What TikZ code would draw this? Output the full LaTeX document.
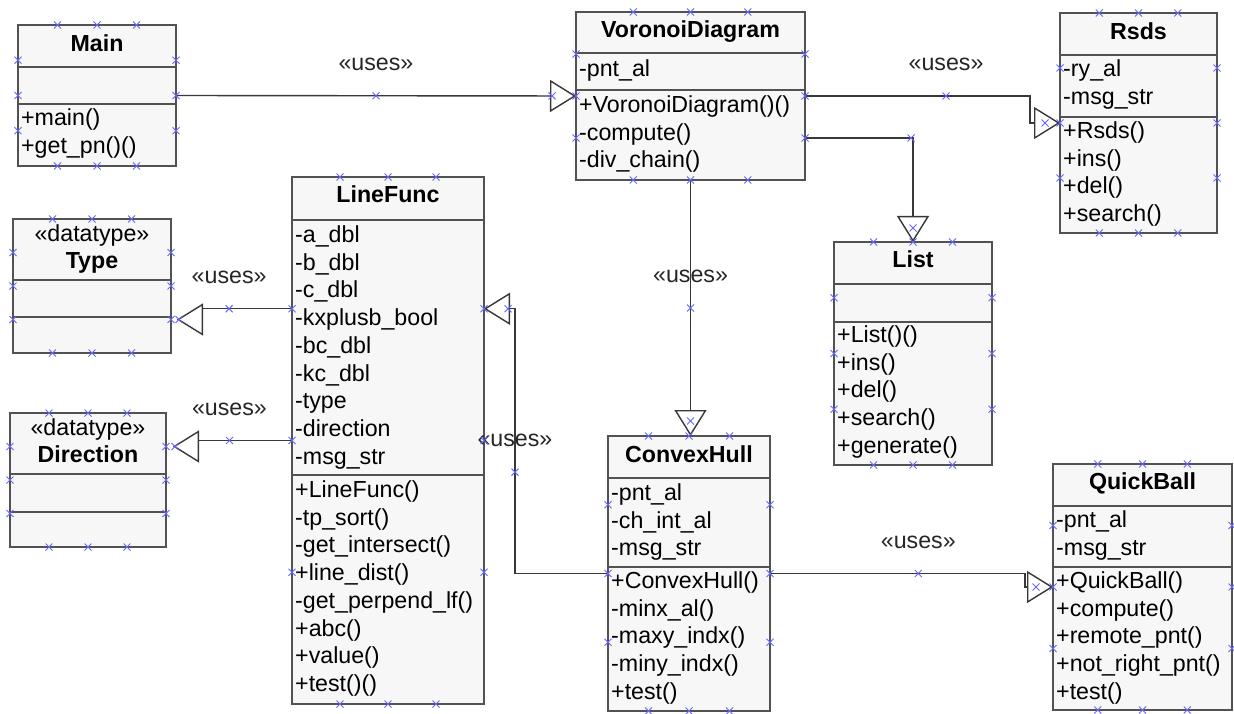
\documentclass[tikz,border=0pt]{standalone}
\usepackage{fontspec}
\setmainfont{Liberation Sans}
\usetikzlibrary{arrows.meta,calc,positioning,decorations.markings}

\colorlet{boxgray}{black!68}
\colorlet{wiregray}{black!78}
\colorlet{handleblue}{blue!60!white}

\tikzset{
  cls/.style={draw=boxgray, line width=2pt, fill=black!3, anchor=north west,
    inner sep=0pt, outer sep=0pt},
  divline/.style={draw=boxgray, line width=2.2pt},
  member/.style={anchor=west, inner sep=0pt, text height=16pt, text depth=5pt,
    font=\fontsize{23.2}{27}\selectfont},
  title/.style={member, anchor=center, font=\fontsize{23.2}{27}\selectfont\bfseries},
  ulabel/.style={member, anchor=center, text=black!85},
  hx/.pic={\draw[handleblue, line width=1pt, -] (-3.5,-3.5) -- (3.5,3.5) (-3.5,3.5) -- (3.5,-3.5);},
  uses/.style 2 args={draw=wiregray, line width=1.4pt,
    -{Triangle[length=26pt,width=32pt,fill=white]},
    postaction={decorate}, decoration={markings,
      mark=at position 0.5 with {\coordinate (#1); \pic{hx};},
      mark=at position -#2 with {\pic{hx};}}}
}

% box with two compartment lines
\newcommand{\umlbox}[6]{%
  \node[cls, minimum width=#3pt, minimum height=#4pt] (#1) at #2 {};
  \draw[divline] ($(#1.north west)+(0,#5)$) -- ($(#1.north east)+(0,#5)$);
  \draw[divline] ($(#1.north west)+(0,#6)$) -- ($(#1.north east)+(0,#6)$);}
% rows of attributes or operations
\newcommand{\umlrows}[4]{%
  \foreach \s [count=\i from 0] in {#4}
    \node[member] (#2\i) at ($(#1.north west)+(3,#3+\i*27.7)$) {\s};}

\begin{document}
\begin{tikzpicture}[x=1pt,y=-1pt]
  \fill[white] (0,0) rectangle (1234,714);
  \useasboundingbox (0,0) rectangle (1234,714);

  % classes
  \umlbox{main}{(18,25)}{158}{141}{42}{79}
  \node[title] (main-t) at ($(main.north)+(0,21)$) {Main};
  \umlrows{main}{main-m}{95}{+main(),+get\_pn()()}

  \umlbox{vd}{(576,12)}{229}{168}{41}{78}
  \node[title] (vd-t) at ($(vd.north)+(0,20)$) {VoronoiDiagram};
  \umlrows{vd}{vd-a}{59}{-pnt\_al}
  \umlrows{vd}{vd-m}{95}{+VoronoiDiagram()(),-compute(),-div\_chain()}

  \umlbox{rsds}{(1060,13)}{157}{220}{42}{104}
  \node[title] (rsds-t) at ($(rsds.north)+(0,21)$) {Rsds};
  \umlrows{rsds}{rsds-a}{58}{-ry\_al,-msg\_str}
  \umlrows{rsds}{rsds-m}{120}{+Rsds(),+ins(),+del(),+search()}

  \umlbox{lf}{(292,177)}{192}{527}{43}{298}
  \node[title] (lf-t) at ($(lf.north)+(0,20)$) {LineFunc};
  \umlrows{lf}{lf-a}{60}{-a\_dbl,-b\_dbl,-c\_dbl,-kxplusb\_bool,-bc\_dbl,-kc\_dbl,-type,-direction,-msg\_str}
  \umlrows{lf}{lf-m}{315}{+LineFunc(),-tp\_sort(),-get\_intersect(),+line\_dist(),-get\_perpend\_lf(),+abc(),+value(),+test()()}

  \umlbox{type}{(13,219)}{158}{134}{61}{98}
  \node[member, anchor=center] (type-s) at ($(type.north)+(0,17)$) {«datatype»};
  \node[title] (type-t) at ($(type.north)+(0,44)$) {Type};

  \umlbox{dir}{(10,413)}{156}{134}{61}{99}
  \node[member, anchor=center] (dir-s) at ($(dir.north)+(0,17)$) {«datatype»};
  \node[title] (dir-t) at ($(dir.north)+(0,44)$) {Direction};

  \umlbox{list}{(834,242)}{158}{223}{42}{80}
  \node[title] (list-t) at ($(list.north)+(0,20)$) {List};
  \umlrows{list}{list-m}{95}{+List()(),+ins(),+del(),+search(),+generate()}

  \umlbox{ch}{(608,436)}{162}{275}{42}{131}
  \node[title] (ch-t) at ($(ch.north)+(0,21)$) {ConvexHull};
  \umlrows{ch}{ch-a}{59}{-pnt\_al,-ch\_int\_al,-msg\_str}
  \umlrows{ch}{ch-m}{147}{+ConvexHull(),-minx\_al(),-maxy\_indx(),-miny\_indx(),+test()}

  \umlbox{qb}{(1053,464)}{179}{246}{42}{103}
  \node[title] (qb-t) at ($(qb.north)+(0,20)$) {QuickBall};
  \umlrows{qb}{qb-a}{58}{-pnt\_al,-msg\_str}
  \umlrows{qb}{qb-m}{119}{+QuickBall(),+compute(),+remote\_pnt(),+not\_right\_pnt(),+test()}

  % connection points
  \coordinate (vd-e3) at ($(vd.north east)!0.75!(vd.south east)$);
  \coordinate (lf-w1) at ($(lf.north west)!0.25!(lf.south west)$);
  \coordinate (lf-e1) at ($(lf.north east)!0.25!(lf.south east)$);
  \coordinate (type-e3) at ($(type.north east)!0.75!(type.south east)$);
  \coordinate (dir-e1) at ($(dir.north east)!0.25!(dir.south east)$);

  % dependencies
  \draw[uses={m1}{24pt}] (main.east) -- (vd.west);
  \draw[uses={m2}{15pt}] (vd.east) -| ($(rsds.west)+(-30,0)$) -- (rsds.west);
  \draw[uses={m3}{14pt}] (vd-e3) -| (list.north);
  \draw[uses={m4}{15pt}] (vd.south) -- (vd.south |- ch.north);
  \draw[uses={m5}{2pt}] (lf-w1) -| ($(type-e3)+(31,0)$) -- ($(type-e3)+(6,0)$);
  \draw[uses={m6}{2pt}] (lf.west) -| ($(dir-e1)+(32,0)$) -- ($(dir-e1)+(7,0)$);
  \draw[uses={m7}{24pt}] (ch.west) -| ($(lf-e1)+(31,0)$) -- (lf-e1);
  \draw[uses={m8}{17pt}] (ch.east) -| ($(qb.west)+(-28,0)$) -- (qb.west);

  \foreach \m in {m1,m2,m4,m5,m6,m7,m8}
    \node[ulabel] (\m-l) at ($(\m)+(0,-31)$) {«uses»};

  % selection handles
  \foreach \b in {main,vd,rsds,lf,type,dir,list,ch,qb}
    \foreach \t in {0.25,0.5,0.75} {
      \pic at ($(\b.north west)!\t!(\b.north east)$) {hx};
      \pic at ($(\b.south west)!\t!(\b.south east)$) {hx};
      \pic at ($(\b.north west)!\t!(\b.south west)$) {hx};
      \pic at ($(\b.north east)!\t!(\b.south east)$) {hx};
    }
\end{tikzpicture}
\end{document}
